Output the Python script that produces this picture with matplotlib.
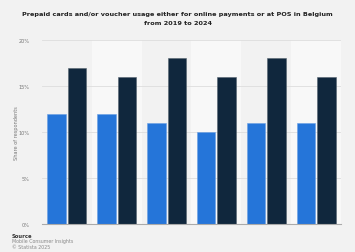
import matplotlib
matplotlib.use("Agg")
import matplotlib.pyplot as plt
import numpy as np

years = ["2019", "2020", "2021", "2022", "2023", "2024"]
series_a = [12, 12, 11, 10, 11, 11]
series_b = [17, 16, 18, 16, 18, 16]
yticks = [0, 5, 10, 15, 20]
ytick_labels = ["0%", "5%", "10%", "15%", "20%"]

W, H = 355, 253
fig = plt.figure(figsize=(W/100, H/100), dpi=100)
fig.patch.set_facecolor("#f2f2f2")
ax_left, ax_right, ax_top, ax_bot = 42, 341, 41, 225
ax = fig.add_axes([ax_left/W, 1-ax_bot/H, (ax_right-ax_left)/W, (ax_bot-ax_top)/H])
ax.set_facecolor("#f2f2f2")

x = np.arange(len(years))
for i in x:
    if i % 2 == 1:
        ax.axvspan(i-0.5, i+0.5, color="#f8f8f8", zorder=0, lw=0)

bw = 0.37
ax.bar(x-0.205, series_a, bw, color="#2575d9", edgecolor="#6a9fe3", linewidth=0.4, zorder=3)
ax.bar(x+0.205, series_b, bw, color="#10273d", edgecolor="#55636f", linewidth=0.4, zorder=3)

ax.set_xlim(-0.5, len(years)-0.5)
ax.set_ylim(0, 20)
ax.set_yticks(yticks)
ax.set_yticklabels(ytick_labels, fontsize=3.6, color="#777777")
ax.set_xticks([])
ax.tick_params(axis="y", length=0, pad=9)
for v in yticks[1:]:
    ax.axhline(v, color="#dddddd", lw=0.6, zorder=1)
for s in ["top", "right", "left"]:
    ax.spines[s].set_visible(False)
ax.spines["bottom"].set_color("#aaaaaa")
ax.spines["bottom"].set_linewidth(0.8)
ax.spines["bottom"].set_zorder(4)
ax.set_ylabel("Share of respondents", fontsize=3.6, color="#777777")
ax.yaxis.set_label_coords(-(ax_left-19)/(ax_right-ax_left), 0.5)

fig.text(0.5, 1-19/H, "Prepaid cards and/or voucher usage either for online payments or at POS in Belgium\nfrom 2019 to 2024",
         ha="center", va="center", fontsize=4.65, color="#222222", fontweight="semibold", linespacing=1.8)

fig.text(12/W, 1-236/H, "Source", fontsize=3.8, color="#333333", fontweight="bold", va="center")
fig.text(12/W, 1-242/H, "Mobile Consumer Insights", fontsize=3.4, color="#888888", va="center")
fig.text(12/W, 1-248/H, "© Statista 2025", fontsize=3.4, color="#888888", va="center")

fig.savefig("out.png", dpi=100, facecolor=fig.get_facecolor())
